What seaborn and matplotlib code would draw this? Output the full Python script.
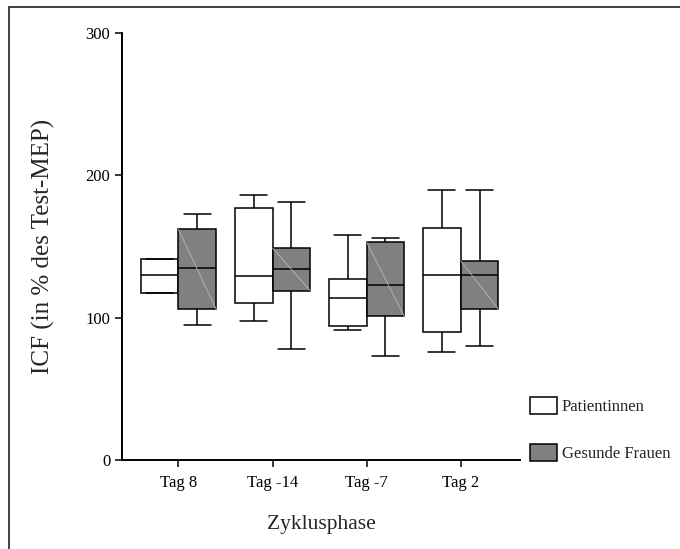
import numpy as np
import pandas as pd
import matplotlib
matplotlib.use('Agg')
import matplotlib.pyplot as plt
from matplotlib.patches import Patch
from matplotlib.lines import Line2D
import seaborn as sns

# Zyklusphasen und Gruppen
phasen = ['Tag 8', 'Tag -14', 'Tag -7', 'Tag 2']
gruppen = ['Patientinnen', 'Gesunde Frauen']
farben = ['white', '#808080']

# Fuenf-Punkte-Zusammenfassung je Phase (min, Q1, Median, Q3, max), ICF in %
pat_min = [117, 98, 91, 76]
pat_q1 = [117, 110, 94, 90]
pat_med = [130, 129, 114, 130]
pat_q3 = [141, 177, 127, 163]
pat_max = [141, 186, 158, 190]

ges_min = [95, 78, 73, 80]
ges_q1 = [106, 119, 101, 106]
ges_med = [135, 134, 123, 130]
ges_q3 = [162, 149, 153, 140]
ges_max = [173, 181, 156, 190]


def build_df():
    rows = []
    stats = {
        'Patientinnen': (pat_min, pat_q1, pat_med, pat_q3, pat_max),
        'Gesunde Frauen': (ges_min, ges_q1, ges_med, ges_q3, ges_max),
    }
    for gruppe in gruppen:
        for i, phase in enumerate(phasen):
            # mit 5 Werten liefern die Quartile exakt Q1 / Median / Q3
            for serie in stats[gruppe]:
                rows.append({'phase': phase, 'gruppe': gruppe, 'icf': serie[i]})
    return pd.DataFrame(rows)


df = build_df()

sns.set_style('ticks')
plt.rcParams['font.family'] = ['Liberation Serif', 'DejaVu Serif']

fig = plt.figure(figsize=(6.8, 5.49), dpi=100)
ax = fig.add_axes([0.1794, 0.1621, 0.5853, 0.7778])

sns.boxplot(data=df, x='phase', y='icf', hue='gruppe', order=phasen, hue_order=gruppen,
            palette=dict(zip(gruppen, farben)), saturation=1, width=0.8, gap=0,
            whis=(0, 100), linecolor='black', linewidth=1.1, legend=False, ax=ax)

# Endstriche der Whisker etwas breiter (ca. 70% der Boxbreite)
for ln in list(ax.lines):
    xd = np.asarray(ln.get_xdata(), dtype=float)
    yd = np.asarray(ln.get_ydata(), dtype=float)
    if len(xd) == 2 and yd[0] == yd[1] and 0 < abs(xd[1] - xd[0]) < 0.3:
        mid = xd.mean()
        ln.set_xdata(mid + (xd - mid) * 1.44)

# feine helle Diagonale in den grauen Boxen (wie im Original)
for p in list(ax.patches):
    fc = p.get_facecolor()
    if fc[0] < 0.9:
        ext = p.get_path().get_extents()
        ax.plot([ext.x0, ext.x1], [ext.y1, ext.y0], color='#b8b8b8', lw=0.6, zorder=p.get_zorder() + 0.1)

ax.set_ylim(0, 300)
ax.set_xlim(-0.6, 3.63)
ax.set_yticks([0, 100, 200, 300])
ax.tick_params(axis='both', direction='out', length=5, width=1.1, labelsize=12, colors='black')
ax.tick_params(axis='x', pad=6)
for s in ['left', 'bottom']:
    ax.spines[s].set_linewidth(1.4)
    ax.spines[s].set_color('black')
sns.despine(ax=ax)

ax.set_xlabel('Zyklusphase', fontsize=15.5, labelpad=17)
ax.set_ylabel('ICF (in % des Test-MEP)', fontsize=18, labelpad=22)

handles = [Patch(facecolor=c, edgecolor='black', linewidth=1.1) for c in farben]
fig.legend(handles, gruppen, loc='upper left', bbox_to_anchor=(530 / 680, 1 - 397 / 549),
           frameon=False, fontsize=12, handlelength=1.6, handleheight=1.15,
           handletextpad=0.3, labelspacing=1.75, borderpad=0, borderaxespad=0)

# Rahmen links und oben
x0, y0 = 9 / 680, 1 - 7 / 549
fig.add_artist(Line2D([x0, x0], [0, y0], transform=fig.transFigure, color='#333333', lw=1.3))
fig.add_artist(Line2D([x0, 1], [y0, y0], transform=fig.transFigure, color='#333333', lw=1.3))

fig.savefig('out.png', dpi=100, facecolor='white')
